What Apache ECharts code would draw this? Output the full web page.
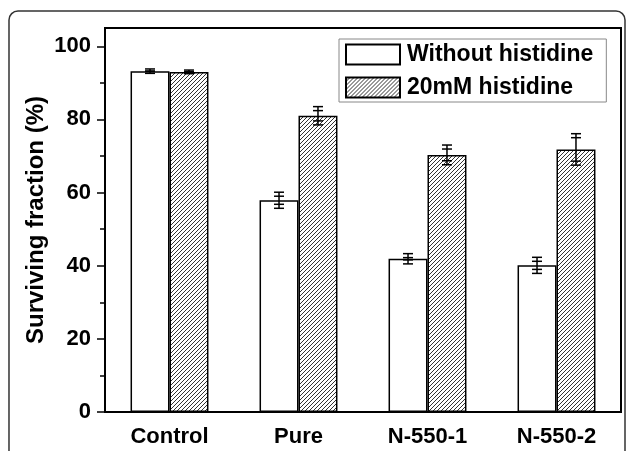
<!DOCTYPE html>
<html>
<head>
<meta charset="utf-8">
<script src="https://cdn.jsdelivr.net/npm/echarts@6/dist/echarts.min.js"></script>
<style>
    html, body { margin: 0; padding: 0; background: #fff; }
    #chart { width: 627px; height: 451px; }
</style>
</head>
<body>
<div id="chart"></div>
<script>
// 数据
var categories = ['Control', 'Pure', 'N-550-1', 'N-550-2'];
var seriesNames = ['Without histidine', '20mM histidine'];
var withoutVals = [93.2, 57.9, 41.9, 40.1];
var withoutErr = [0.6, 2.2, 1.4, 2.2];
var histVals = [93.0, 81.0, 70.3, 71.8];
var histErr = [0.5, 2.5, 2.7, 4.3];
var yTicks = [0, 20, 40, 60, 80, 100];
var yMinorTicks = [10, 30, 50, 70, 90];

var FONT = '"Liberation Sans", Arial, sans-serif';

// 斜线填充
function hatchPattern() {
    var c = document.createElement('canvas');
    c.width = 4;
    c.height = 4;
    var ctx = c.getContext('2d');
    ctx.fillStyle = '#fff';
    ctx.fillRect(0, 0, 4, 4);
    ctx.strokeStyle = '#333';
    ctx.lineWidth = 1;
    ctx.beginPath();
    ctx.moveTo(-1, 5); ctx.lineTo(5, -1);
    ctx.moveTo(-1, 1); ctx.lineTo(1, -1);
    ctx.moveTo(3, 5); ctx.lineTo(5, 3);
    ctx.stroke();
    return { image: c, repeat: 'repeat' };
}

// 误差线
function errorSeries(vals, errs, side) {
    var data = [];
    for (var i = 0; i < vals.length; i++) {
        data.push([i, vals[i] - errs[i], vals[i] + errs[i]]);
    }
    return {
        type: 'custom',
        z: 10,
        silent: true,
        data: data,
        renderItem: function (params, api) {
            var band = api.size([1, 0])[0];
            var off = side * band * 0.151;
            var lo = api.coord([api.value(0), api.value(1)]);
            var hi = api.coord([api.value(0), api.value(2)]);
            var x = lo[0] + off;
            var w = 5;
            var st = { stroke: '#000', lineWidth: 1.5 };
            var inner = Math.min(4, (lo[1] - hi[1]) / 2);
            return {
                type: 'group',
                children: [
                    { type: 'line', shape: { x1: x, y1: lo[1], x2: x, y2: hi[1] }, style: st },
                    { type: 'line', shape: { x1: x - w, y1: lo[1], x2: x + w, y2: lo[1] }, style: st },
                    { type: 'line', shape: { x1: x - w, y1: hi[1], x2: x + w, y2: hi[1] }, style: st },
                    { type: 'line', shape: { x1: x - w, y1: lo[1] - inner, x2: x + w, y2: lo[1] - inner }, style: st },
                    { type: 'line', shape: { x1: x - w, y1: hi[1] + inner, x2: x + w, y2: hi[1] + inner }, style: st }
                ]
            };
        }
    };
}

var chart = echarts.init(document.getElementById('chart'));
var option = {
    animation: false,
    backgroundColor: '#fff',
    textStyle: { fontFamily: FONT },
    graphic: [{
        type: 'rect',
        shape: { x: 9, y: 11, width: 616, height: 470, r: 9 },
        style: { fill: 'none', stroke: '#333', lineWidth: 1.5 },
        silent: true
    }],
    grid: {
        left: 105, top: 28, right: 6, bottom: 39,
        show: true, borderColor: '#000', borderWidth: 2
    },
    legend: {
        orient: 'vertical',
        left: 339, top: 39,
        padding: [4, 13, 3, 6],
        itemGap: 10,
        itemWidth: 54, itemHeight: 20,
        borderColor: '#888', borderWidth: 1,
        icon: 'rect',
        textStyle: { fontFamily: FONT, fontSize: 23, fontWeight: 'bold', color: '#000', padding: [0, 0, 0, 2] },
        data: seriesNames
    },
    xAxis: {
        type: 'category',
        data: categories,
        axisLine: { lineStyle: { color: '#000', width: 2 } },
        axisTick: { alignWithLabel: true, length: 8, lineStyle: { color: '#000', width: 1.5 } },
        axisLabel: { color: '#000', fontSize: 22, fontWeight: 'bold', margin: 14 }
    },
    yAxis: [{
        type: 'value',
        min: 0, max: 105,
        name: 'Surviving fraction (%)',
        nameLocation: 'middle',
        nameGap: 57,
        nameMoveOverlap: false,
        nameTextStyle: { color: '#000', fontSize: 24, fontWeight: 'bold' },
        splitLine: { show: false },
        axisLine: { show: true, lineStyle: { color: '#000', width: 2 } },
        axisTick: { show: true, length: 8, customValues: yTicks, lineStyle: { color: '#000', width: 1.5 } },
        axisLabel: { color: '#000', fontSize: 22, fontWeight: 'bold', margin: 14, customValues: yTicks }
    }, {
        type: 'value',
        position: 'left',
        min: 0, max: 105,
        splitLine: { show: false },
        axisLine: { show: false },
        axisTick: { show: true, length: 5, customValues: yMinorTicks, lineStyle: { color: '#000', width: 1.5 } },
        axisLabel: { show: false }
    }],
    series: [{
        name: seriesNames[0],
        type: 'bar',
        barWidth: '30.2%',
        barGap: '0%',
        data: withoutVals,
        itemStyle: { color: '#fff', borderColor: '#000', borderWidth: 1.5 }
    }, {
        name: seriesNames[1],
        type: 'bar',
        barWidth: '30.2%',
        barGap: '0%',
        data: histVals,
        itemStyle: { color: hatchPattern(), borderColor: '#000', borderWidth: 1.5 }
    },
    errorSeries(withoutVals, withoutErr, -1),
    errorSeries(histVals, histErr, 1)]
};
chart.setOption(option);
</script>
</body>
</html>
